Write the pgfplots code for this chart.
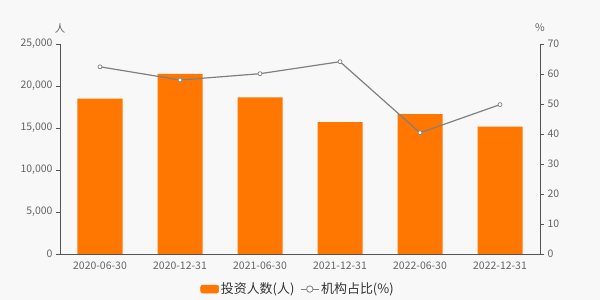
\documentclass[border=0pt]{standalone}
\usepackage{pgfplots}
\pgfplotsset{compat=1.18}
\usepackage{fontspec}
\setmainfont{Noto Sans CJK SC}
\definecolor{bg}{RGB}{248,248,248}
\definecolor{barc}{RGB}{255,119,0}
\definecolor{linec}{RGB}{128,128,128}
\definecolor{axc}{RGB}{85,85,85}
\definecolor{txt}{RGB}{100,100,100}
\definecolor{legtxt}{RGB}{51,51,51}
\begin{document}
\begin{tikzpicture}
\fill[bg] (0,0) rectangle (600bp,300bp);
\useasboundingbox (0,0) rectangle (600bp,300bp);
\begin{axis}[
  at={(60bp,46bp)}, anchor=south west,
  scale only axis, width=480bp, height=210bp,
  xmin=-0.5, xmax=5.5, ymin=0, ymax=25000,
  axis x line*=bottom, axis y line*=left,
  axis line style={-, draw=axc, line width=0.8bp},
  xtick={0,...,5},
  xticklabels={2020-06-30,2020-12-31,2021-06-30,2021-12-31,2022-06-30,2022-12-31},
  x tick style={draw=none},
  extra x ticks={0.5,1.5,2.5,3.5,4.5},
  extra x tick labels={},
  extra x tick style={tick style={draw=axc, line width=0.8bp}, major tick length=4bp, tick align=outside},
  ytick={0,5000,10000,15000,20000,25000},
  y tick style={draw=axc, line width=0.8bp},
  tick align=outside, major tick length=4bp,
  yticklabel style={/pgf/number format/1000 sep={,}},
  /pgf/number format/assume math mode=true,
  ticklabel style={font=\fontsize{10.5}{12}\selectfont, text=txt},
  scaled y ticks=false,
  clip=false,
]
\addplot[ybar, bar width=45bp, fill=barc, draw=none] coordinates {
 (0,18500) (1,21450) (2,18650) (3,15700) (4,16650) (5,15150)};
\node[font=\fontsize{10.5}{12}\selectfont, text=txt] at ([yshift=15bp]rel axis cs:0,1) {人};
\end{axis}
\begin{axis}[
  at={(60bp,46bp)}, anchor=south west,
  scale only axis, width=480bp, height=210bp,
  xmin=-0.5, xmax=5.5, ymin=0, ymax=70,
  axis x line=none, axis y line*=right,
  axis line style={-, draw=axc, line width=0.8bp},
  ytick={0,10,...,70},
  y tick style={draw=axc, line width=0.8bp},
  tick align=outside, major tick length=4bp,
  /pgf/number format/assume math mode=true,
  ticklabel style={font=\fontsize{10.5}{12}\selectfont, text=txt},
  clip=false,
  legend style={at={(0.496,-0.167)}, anchor=center, draw=none, fill=none,
    font=\fontsize{13}{15}\selectfont, text=legtxt, legend columns=2,
    /tikz/every even column/.append style={column sep=4bp}},
]
\addlegendimage{legend image code/.code={\fill[barc, rounded corners=2bp] (0bp,-4bp) rectangle (18bp,4bp);}}
\addlegendentry{投资人数(人)}
\addplot[color=linec, line width=1.2bp, mark=*, mark size=2bp,
  mark options={fill=white, draw=linec, line width=0.7bp},
  legend image code/.code={\draw[linec, line width=0.8bp] (0bp,0bp) -- (18bp,0bp);
  \draw[linec, fill=white, line width=0.8bp] (9bp,0bp) circle (3.2bp);}]
 coordinates {(0,62.4) (1,58.0) (2,60.1) (3,64.1) (4,40.4) (5,49.8)};
\addlegendentry{机构占比(\%)}
\node[font=\fontsize{10.5}{12}\selectfont, text=txt] at ([yshift=16bp]rel axis cs:1,1) {\%};
\end{axis}
\end{tikzpicture}
\end{document}
